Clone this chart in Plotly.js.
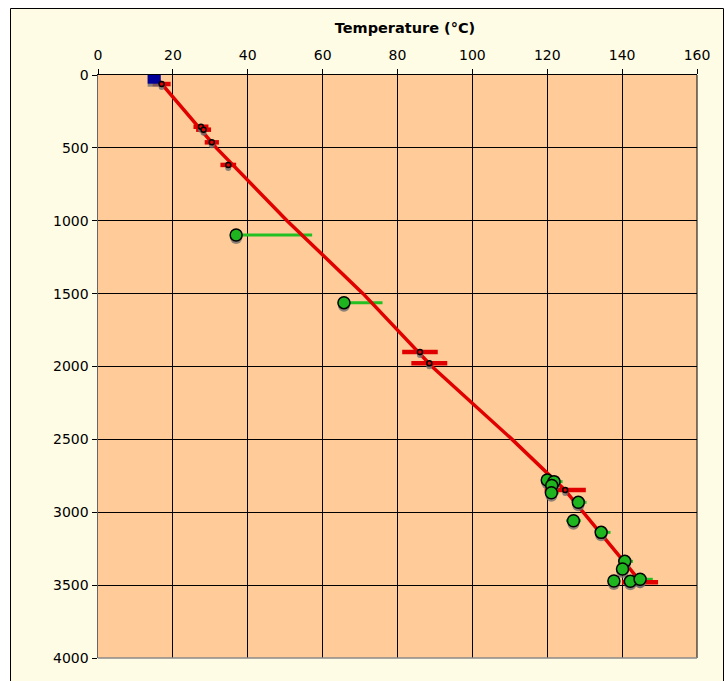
<!DOCTYPE html>
<html>
<head>
<meta charset="utf-8">
<script src="https://cdn.plot.ly/plotly-3.0.1.min.js"></script>
<style>html,body{margin:0;padding:0;background:#fff;}#chart{width:724px;height:681px;}</style>
</head>
<body>
<div id="chart"></div>
<script>
// Surface temperature
const surfaceT = [15];
const surfaceDepth = [15];

// Temperature model line
const modelT = [15, 31.6, 50.5, 70.8, 89.2, 110.6, 124.7, 145.0];
const modelDepth = [0, 500, 1000, 1500, 2000, 2500, 2847, 3480];

// Red measurements (with horizontal error)
const redT = [17.0, 27.5, 28.2, 30.4, 34.8, 86.0, 88.5, 124.8, 144.8];
const redDepth = [62, 355, 375, 462, 617, 1900, 1978, 2847, 3480];
const redErr = [2.4, 2.0, 2.0, 1.9, 2.1, 4.75, 4.8, 5.5, 4.8];

// Green measurements (with error)
const greenT = [36.9, 65.7, 120.0, 121.8, 121.2, 121.1, 128.3, 127.0, 134.4, 140.7, 140.1, 137.8, 142.2, 144.8];
const greenDepth = [1098, 1562, 2779, 2790, 2817, 2866, 2932, 3058, 3138, 3337, 3389, 3472, 3474, 3460];
const greenErrPlus = [20.3, 10.3, 1.5, 2.3, 1.5, 2.0, 2.2, 2.0, 2.5, 2.2, 1.5, 1.5, 1.5, 3.4];
const greenErrMinus = [0, 0, 0, 0, 0, 0, 0, 2.0, 0, 0, 0, 0, 0, 0];

const xTicks = [0, 20, 40, 60, 80, 100, 120, 140, 160];
const yTicks = [0, 500, 1000, 1500, 2000, 2500, 3000, 3500, 4000];
const xTitle = 'Temperature (°C)';

const RED = '#E00000';
const GREEN = '#1FB51F';
const SHADOW = 'rgba(110,110,110,0.8)';

// plot geometry (px)
const W = 724, H = 681, ML = 98, MR = 27, MT = 75, MB = 23;
const PW = W - ML - MR, PH = H - MT - MB;
const shadowPx = 3;
const shadowShift = shadowPx * 4000 / PH;

const traces = [
  // green error bars (under line)
  {x: greenT, y: greenDepth, type: 'scatter', mode: 'markers',
   marker: {size: 1, color: 'rgba(0,0,0,0)'},
   error_x: {type: 'data', symmetric: false, array: greenErrPlus, arrayminus: greenErrMinus,
             color: '#22C022', thickness: 3, width: 0}},
  // red error bars
  {x: redT, y: redDepth, type: 'scatter', mode: 'markers',
   marker: {size: 1, color: 'rgba(0,0,0,0)'},
   error_x: {type: 'data', array: redErr, color: RED, thickness: 4.5, width: 0}},
  // model line
  {x: modelT, y: modelDepth, type: 'scatter', mode: 'lines',
   line: {color: RED, width: 3.5}},
  // shadows (overlay axis shifted a few px down)
  {x: surfaceT, y: surfaceDepth, yaxis: 'y2', type: 'scatter', mode: 'markers',
   marker: {symbol: 'square', size: 13, color: SHADOW}},
  {x: redT, y: redDepth, yaxis: 'y2', type: 'scatter', mode: 'markers',
   marker: {size: 6, color: SHADOW}},
  {x: greenT, y: greenDepth, yaxis: 'y2', type: 'scatter', mode: 'markers',
   marker: {size: 12, color: SHADOW}},
  // markers (top overlay axis, same scale as main)
  {x: surfaceT, y: surfaceDepth, yaxis: 'y3', type: 'scatter', mode: 'markers',
   marker: {symbol: 'square', size: 13, color: '#000099'}},
  {x: redT, y: redDepth, yaxis: 'y3', type: 'scatter', mode: 'markers',
   marker: {size: 5, color: RED, line: {color: '#000', width: 1.5}}},
  {x: greenT, y: greenDepth, yaxis: 'y3', type: 'scatter', mode: 'markers',
   marker: {size: 12, color: GREEN, line: {color: '#000', width: 1.5}}}
];

const px2x = p => (p - ML) / PW;
const px2y = p => (H - MB - p) / PH;

const layout = {
  width: W, height: H,
  margin: {l: ML, r: MR, t: MT, b: MB, pad: 0},
  paper_bgcolor: '#FFFCE5',
  plot_bgcolor: '#FFCC99',
  showlegend: false,
  hovermode: false,
  font: {family: 'DejaVu Sans, Verdana, sans-serif', size: 14, color: '#000'},
  title: {
    text: '<b>' + xTitle + '</b>', font: {size: 14.5},
    xref: 'paper', x: px2x(405), xanchor: 'center',
    yref: 'container', y: 1 - 28 / H, yanchor: 'middle'
  },
  xaxis: {
    side: 'top', range: [0, 160], tickvals: xTicks, ticktext: xTicks.map(String),
    ticks: 'outside', ticklen: 5, tickcolor: '#000', tickwidth: 1, ticklabelstandoff: 3,
    showline: true, linecolor: '#000', linewidth: 1,
    showgrid: true, gridcolor: '#000', gridwidth: 1, zeroline: false,
    automargin: false, fixedrange: true
  },
  yaxis: {
    range: [4000, 0], tickvals: yTicks, ticktext: yTicks.map(String),
    ticks: 'outside', ticklen: 5, tickcolor: '#000', tickwidth: 1,
    showline: true, linecolor: '#666', linewidth: 1.5,
    showgrid: true, gridcolor: '#000', gridwidth: 1, zeroline: false,
    automargin: false, fixedrange: true
  },
  yaxis2: {
    overlaying: 'y', range: [4000 - shadowShift, -shadowShift],
    visible: false, showgrid: false, zeroline: false, fixedrange: true
  },
  yaxis3: {
    overlaying: 'y', range: [4000, 0],
    visible: false, showgrid: false, zeroline: false, fixedrange: true
  },
  shapes: [
    // white outside the frame
    {type: 'rect', xref: 'paper', yref: 'paper', x0: px2x(-5), x1: px2x(W + 5), y0: px2y(8), y1: px2y(-5),
     fillcolor: '#FFFFFF', line: {width: 0}, layer: 'below'},
    {type: 'rect', xref: 'paper', yref: 'paper', x0: px2x(-5), x1: px2x(10), y0: px2y(H + 5), y1: px2y(-5),
     fillcolor: '#FFFFFF', line: {width: 0}, layer: 'below'},
    // outer frame
    {type: 'rect', xref: 'paper', yref: 'paper', x0: px2x(10.5), x1: px2x(723.5), y0: px2y(H + 10), y1: px2y(8.5),
     fillcolor: 'rgba(0,0,0,0)', line: {color: '#000', width: 1}},
    // right and bottom borders of plot
    {type: 'line', xref: 'paper', yref: 'paper', x0: 1, x1: 1, y0: 0, y1: 1, line: {color: '#000', width: 1}},
    {type: 'line', xref: 'paper', yref: 'paper', x0: 0, x1: 1, y0: 0, y1: 0, line: {color: '#8a8a8a', width: 1.5}}
  ]
};

Plotly.newPlot('chart', traces, layout, {displayModeBar: false, staticPlot: true});
</script>
</body>
</html>
